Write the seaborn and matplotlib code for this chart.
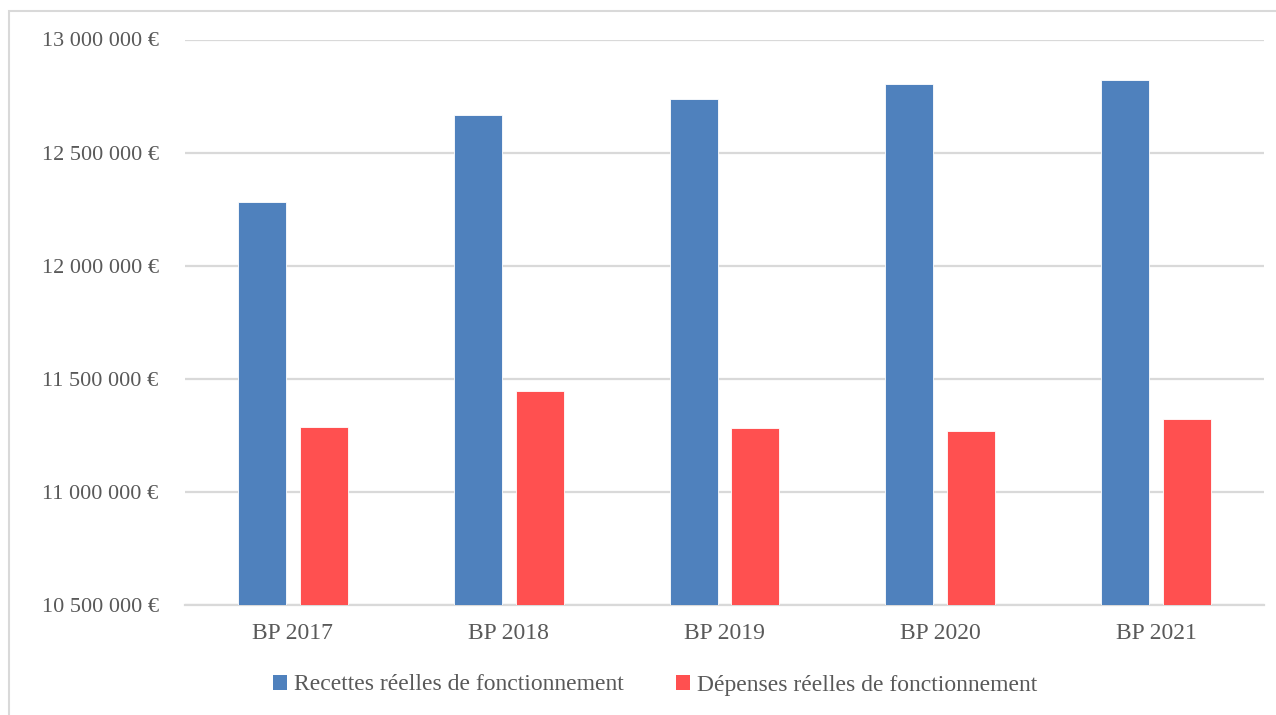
import matplotlib
matplotlib.use("Agg")
import matplotlib.pyplot as plt
import matplotlib.patches as mpatches
from matplotlib.ticker import FuncFormatter, MultipleLocator
import pandas as pd
import seaborn as sns

years = ["BP 2017", "BP 2018", "BP 2019", "BP 2020", "BP 2021"]
recettes = [12280000, 12668000, 12739000, 12805000, 12819000]
depenses = [11288000, 11447000, 11283000, 11270000, 11323000]
series = ["Recettes réelles de fonctionnement", "Dépenses réelles de fonctionnement"]
colors = ["#4F81BD", "#FF5050"]
TEXT = "#595959"
GRID = "#D9D9D9"


def euro(v, _pos):
    return f"{int(v):,}".replace(",", " ") + " €"


def main() -> None:
    sns.set_theme(style="white")
    plt.rcParams["font.family"] = ["Liberation Serif", "DejaVu Serif"]

    df = pd.DataFrame({
        "annee": years * 2,
        "valeur": recettes + depenses,
        "serie": [series[0]] * len(years) + [series[1]] * len(years),
    })

    fig = plt.figure(figsize=(12.76, 7.15), dpi=100)
    ax = fig.add_axes([185 / 1276, 1 - 605 / 715, (1264 - 185) / 1276, (605 - 39.5) / 715])

    sns.barplot(data=df, x="annee", y="valeur", hue="serie", palette=colors,
                saturation=1, width=0.574, gap=0.226, ax=ax, legend=False, zorder=3,
                edgecolor="white", linewidth=0.6)

    ax.set_ylim(10500000, 13000000)
    ax.yaxis.set_major_locator(MultipleLocator(500000))
    ax.yaxis.set_major_formatter(FuncFormatter(euro))
    ax.set_xlim(-0.5, len(years) - 0.5)
    ax.set_xlabel("")
    ax.set_ylabel("")
    ax.grid(axis="y", color=GRID, linewidth=1.6, zorder=0)
    ax.set_axisbelow(True)
    for side in ["top", "right", "left"]:
        ax.spines[side].set_visible(False)
    ax.spines["bottom"].set_color(GRID)
    ax.spines["bottom"].set_linewidth(1.6)
    ax.tick_params(axis="y", length=0, pad=19, labelsize=16, labelcolor=TEXT)
    ax.tick_params(axis="x", length=0, pad=13, labelsize=17, labelcolor=TEXT)

    handles = [mpatches.Patch(facecolor=c, edgecolor="none", label=s) for c, s in zip(colors, series)]
    fig.legend(handles=handles, loc="center", bbox_to_anchor=(655 / 1276, 1 - 685 / 715),
               ncol=2, frameon=False, fontsize=17, labelcolor=TEXT,
               handlelength=0.6, handleheight=0.6, handletextpad=0.3, columnspacing=2.2)

    fig.patches.append(mpatches.Rectangle((9 / 1276, -0.05), 1.2, 1 - 11 / 715 + 0.05,
                                          transform=fig.transFigure, fill=False,
                                          edgecolor=GRID, linewidth=1.5, figure=fig))

    fig.savefig("out.png", dpi=100)
    plt.close(fig)


if __name__ == "__main__":
    main()
